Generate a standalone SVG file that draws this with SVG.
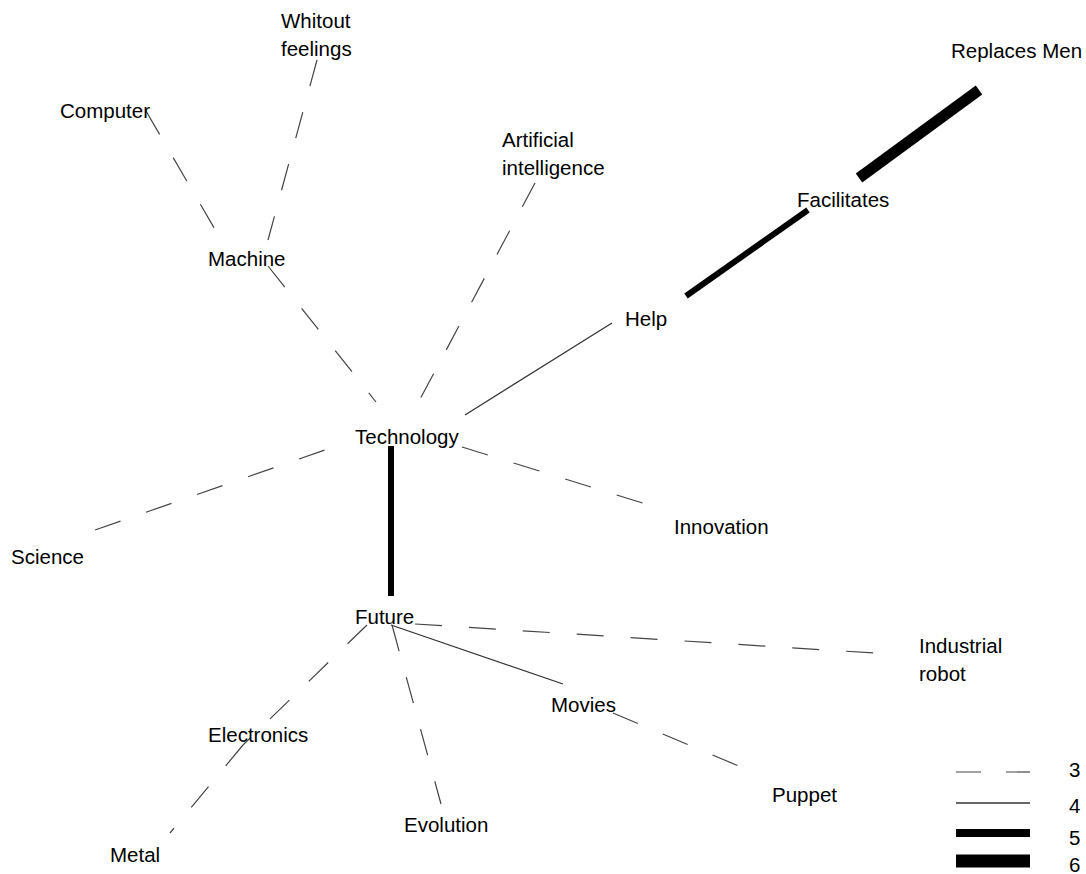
<svg xmlns="http://www.w3.org/2000/svg" width="1086" height="874" viewBox="0 0 1086 874">
  <style>
    text { font-family: "Liberation Sans", Arial, sans-serif; font-size: 20.5px; fill: #000; }
    .w3 { stroke: #444; stroke-width: 1.2; stroke-dasharray: 27 27; fill: none; }
    .w4 { stroke: #333; stroke-width: 1.3; fill: none; }
    .w5 { stroke: #000; stroke-width: 6; fill: none; }
    .w6 { stroke: #000; stroke-width: 11; fill: none; }
  </style>
  <rect width="1086" height="874" fill="#fff"/>

  <!-- links between concepts -->
  <g id="connectors">
    <line class="w3" x1="146" y1="111" x2="220" y2="238"/>
    <line class="w3" x1="317" y1="60" x2="268" y2="240"/>
    <line class="w3" x1="268" y1="266" x2="376" y2="402"/>
    <line class="w3" x1="535" y1="183" x2="410" y2="418"/>
    <line class="w4" x1="612" y1="323" x2="465" y2="415"/>
    <line class="w3" x1="462" y1="447" x2="665" y2="510"/>
    <line class="w3" x1="95" y1="530" x2="345" y2="443"/>
    <line class="w5" x1="391" y1="446" x2="391" y2="596"/>
    <line class="w5" x1="686" y1="296" x2="808" y2="210"/>
    <line class="w6" x1="859" y1="178" x2="979" y2="90"/>
    <line class="w3" x1="415" y1="624" x2="890" y2="654"/>
    <line class="w4" x1="391" y1="625" x2="563" y2="684"/>
    <line class="w3" x1="613" y1="713" x2="760" y2="775"/>
    <line class="w3" x1="392" y1="625" x2="441" y2="804"/>
    <line class="w3" x1="367" y1="625" x2="243" y2="745"/>
    <line class="w3" x1="243" y1="745" x2="170" y2="833"/>
  </g>

  <!-- concepts -->
  <g id="n-whitout-feelings"><text x="281" y="28">Whitout</text><text x="281" y="56">feelings</text></g>
  <g id="n-computer"><text x="60" y="118">Computer</text></g>
  <g id="n-artificial-intelligence"><text x="502" y="147">Artificial</text><text x="502" y="175">intelligence</text></g>
  <g id="n-replaces-men"><text x="951" y="58">Replaces Men</text></g>
  <g id="n-facilitates"><text x="797" y="207">Facilitates</text></g>
  <g id="n-machine"><text x="208" y="266">Machine</text></g>
  <g id="n-help"><text x="625" y="326">Help</text></g>
  <g id="n-technology"><text x="355" y="444">Technology</text></g>
  <g id="n-innovation"><text x="674" y="534">Innovation</text></g>
  <g id="n-science"><text x="11" y="564">Science</text></g>
  <g id="n-future"><text x="355" y="624">Future</text></g>
  <g id="n-industrial-robot"><text x="919" y="653">Industrial</text><text x="919" y="681">robot</text></g>
  <g id="n-movies"><text x="551" y="712">Movies</text></g>
  <g id="n-electronics"><text x="208" y="742">Electronics</text></g>
  <g id="n-puppet"><text x="772" y="802">Puppet</text></g>
  <g id="n-evolution"><text x="404" y="832">Evolution</text></g>
  <g id="n-metal"><text x="110" y="862">Metal</text></g>

  <!-- line weight key -->
  <g id="legend">
    <line x1="956" y1="772" x2="1030" y2="772" stroke="#444" stroke-width="1.2" stroke-dasharray="25 25"/>
    <line x1="956" y1="803" x2="1030" y2="803" stroke="#333" stroke-width="1.3"/>
    <line x1="956" y1="833" x2="1030" y2="833" stroke="#000" stroke-width="8"/>
    <line x1="956" y1="861" x2="1030" y2="861" stroke="#000" stroke-width="13"/>
    <text x="1069" y="777">3</text>
    <text x="1069" y="813">4</text>
    <text x="1069" y="845">5</text>
    <text x="1069" y="872">6</text>
  </g>
</svg>
